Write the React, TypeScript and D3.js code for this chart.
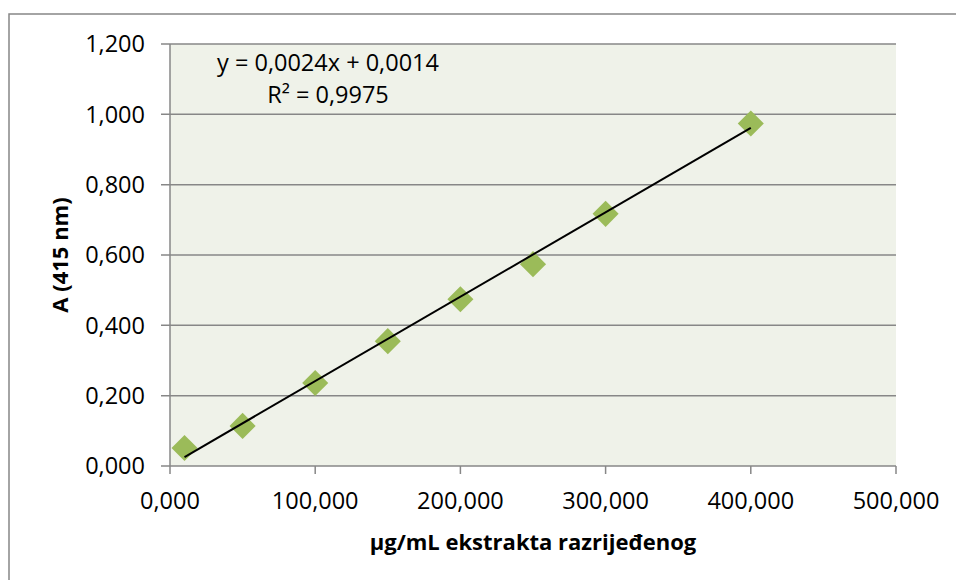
import * as d3 from "d3";
import React, { useEffect, useRef } from "react";

// koncentracija (µg/mL) i apsorbancija na 415 nm
const concentrations = [10, 50, 100, 150, 200, 250, 300, 400];
const absorbances = [0.051, 0.114, 0.236, 0.355, 0.474, 0.574, 0.717, 0.974];

const xTicks = [0, 100, 200, 300, 400, 500];
const yTicks = [0, 0.2, 0.4, 0.6, 0.8, 1.0, 1.2];

const slope = 0.0024;
const intercept = 0.0014;
const equationLines = ["y = 0,0024x + 0,0014", "R² = 0,9975"];

const W = 956;
const H = 580;
const margin = { left: 170, right: 60, top: 44, bottom: 114 };
const font = "'Open Sans', sans-serif";
const gridColor = "#878787";
const textColor = "#000";

// Excel-like: 1,200 / 100,000 (comma as decimal separator)
const label = (v: number) => v.toFixed(3).replace(".", ",");

export default function App() {
  const ref = useRef<SVGSVGElement | null>(null);

  useEffect(() => {
    const svg = d3.select(ref.current);
    svg.selectAll("*").remove();

    const x = d3.scaleLinear().domain([0, 500]).range([margin.left, W - margin.right]);
    const y = d3.scaleLinear().domain([0, 1.2]).range([H - margin.bottom, margin.top]);

    // outer chart border
    svg
      .append("rect")
      .attr("x", 9)
      .attr("y", 14)
      .attr("width", 1000)
      .attr("height", 700)
      .attr("fill", "#fff")
      .attr("stroke", gridColor)
      .attr("stroke-width", 1.5);

    // plot area
    svg
      .append("rect")
      .attr("x", x(0))
      .attr("y", y(1.2))
      .attr("width", x(500) - x(0))
      .attr("height", y(0) - y(1.2))
      .attr("fill", "#eff2e9");

    // horizontal gridlines
    svg
      .append("g")
      .selectAll("line")
      .data(yTicks)
      .join("line")
      .attr("x1", x(0) - 9)
      .attr("x2", x(500))
      .attr("y1", (d) => y(d))
      .attr("y2", (d) => y(d))
      .attr("stroke", gridColor)
      .attr("stroke-width", 1.5);

    // y axis line
    svg
      .append("line")
      .attr("x1", x(0))
      .attr("x2", x(0))
      .attr("y1", y(1.2))
      .attr("y2", y(0))
      .attr("stroke", gridColor)
      .attr("stroke-width", 1.5);

    // x ticks
    svg
      .append("g")
      .selectAll("line")
      .data(xTicks)
      .join("line")
      .attr("x1", (d) => x(d))
      .attr("x2", (d) => x(d))
      .attr("y1", y(0))
      .attr("y2", y(0) + 8)
      .attr("stroke", gridColor)
      .attr("stroke-width", 1.5);

    // y tick labels
    svg
      .append("g")
      .selectAll("text")
      .data(yTicks)
      .join("text")
      .attr("x", x(0) - 25)
      .attr("y", (d) => y(d))
      .attr("dy", "0.35em")
      .attr("text-anchor", "end")
      .attr("font-family", font)
      .attr("font-size", 23.5)
      .attr("fill", textColor)
      .text((d) => label(d));

    // x tick labels
    svg
      .append("g")
      .selectAll("text")
      .data(xTicks)
      .join("text")
      .attr("x", (d) => x(d))
      .attr("y", y(0) + 35)
      .attr("dy", "0.35em")
      .attr("text-anchor", "middle")
      .attr("font-family", font)
      .attr("font-size", 23.5)
      .attr("fill", textColor)
      .text((d) => label(d));

    // markers
    const diamond = d3.symbol(d3.symbolSquare, 340);
    svg
      .append("g")
      .selectAll("path")
      .data(concentrations.map((c, i) => [c, absorbances[i]]))
      .join("path")
      .attr("d", diamond)
      .attr("transform", (d) => `translate(${x(d[0])},${y(d[1])}) rotate(45)`)
      .attr("fill", "#9bbb59");

    // linear trendline over the data range
    const xs = d3.extent(concentrations) as [number, number];
    svg
      .append("line")
      .attr("x1", x(xs[0]))
      .attr("y1", y(slope * xs[0] + intercept))
      .attr("x2", x(xs[1]))
      .attr("y2", y(slope * xs[1] + intercept))
      .attr("stroke", "#000")
      .attr("stroke-width", 2);

    // equation
    svg
      .append("g")
      .selectAll("text")
      .data(equationLines)
      .join("text")
      .attr("x", 328)
      .attr("y", (d, i) => 63 + i * 32)
      .attr("dy", "0.35em")
      .attr("text-anchor", "middle")
      .attr("font-family", font)
      .attr("font-size", 23.5)
      .attr("fill", textColor)
      .text((d) => d);

    // axis titles
    svg
      .append("text")
      .attr("x", (x(0) + x(500)) / 2)
      .attr("y", 542)
      .attr("dy", "0.35em")
      .attr("text-anchor", "middle")
      .attr("font-family", font)
      .attr("font-weight", "bold")
      .attr("font-size", 22)
      .attr("fill", textColor)
      .text("µg/mL ekstrakta razrijeđenog");

    svg
      .append("text")
      .attr("transform", `translate(60,${(y(0) + y(1.2)) / 2}) rotate(-90)`)
      .attr("dy", "0.35em")
      .attr("text-anchor", "middle")
      .attr("font-family", font)
      .attr("font-weight", "bold")
      .attr("font-size", 22)
      .attr("fill", textColor)
      .text("A (415 nm)");
  }, []);

  return (
    <svg
      ref={ref}
      width={W}
      height={H}
      style={{ position: "absolute", left: 0, top: 0, background: "#fff" }}
    />
  );
}
